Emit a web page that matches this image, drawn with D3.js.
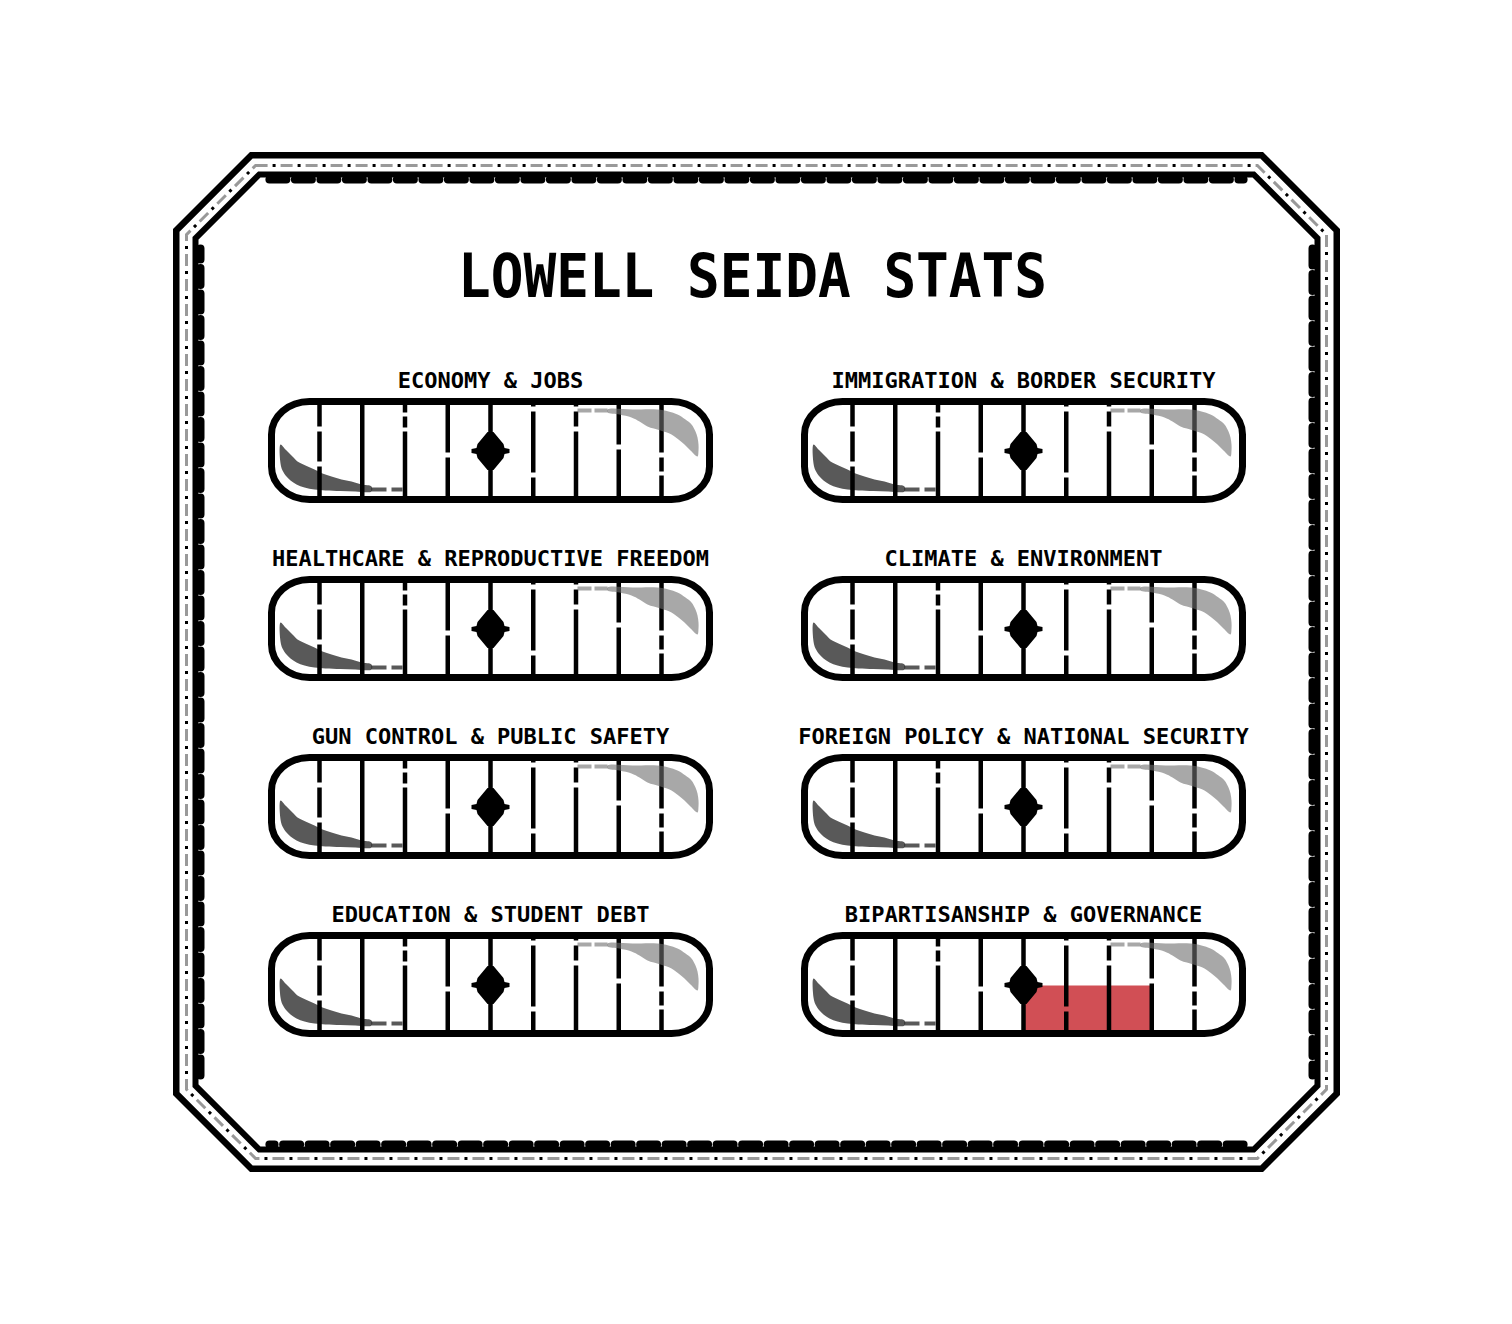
<!DOCTYPE html>
<html><head><meta charset="utf-8">
<script src="https://cdn.jsdelivr.net/npm/d3@7"></script>
<style>html,body{margin:0;padding:0;background:#fff;} svg{display:block}</style>
</head><body><div id="chart"></div>
<script>
// ---------- data ----------
const chartTitle = "LOWELL SEIDA STATS";
const categories = [
  "ECONOMY & JOBS", "IMMIGRATION & BORDER SECURITY",
  "HEALTHCARE & REPRODUCTIVE FREEDOM", "CLIMATE & ENVIRONMENT",
  "GUN CONTROL & PUBLIC SAFETY", "FOREIGN POLICY & NATIONAL SECURITY",
  "EDUCATION & STUDENT DEBT", "BIPARTISANSHIP & GOVERNANCE"
];
const scores = [0, 0, 0, 0, 0, 0, 0, 3];
const tickValues = [-4, -3, -2, -1, 0, 1, 2, 3, 4];
const scoreDomain = [-5, 5];
const centerValue = 0;

// ---------- style / layout ----------
const W = 1512, H = 1324;
const FONT = "'DejaVu Sans Mono', 'Liberation Mono', monospace";
const svg = d3.select("#chart").append("svg").attr("width", W).attr("height", H);
svg.append("rect").attr("width", W).attr("height", H).attr("fill", "#fff");

// frame (octagon)
const F = {x0: 173, y0: 152, x1: 1340, y1: 1172, c: 77};
function oct(d) {
  const k = F.c - d * (2 - Math.SQRT2);
  const x0 = F.x0 + d, y0 = F.y0 + d, x1 = F.x1 - d, y1 = F.y1 - d;
  return [[x0 + k, y0], [x1 - k, y0], [x1, y0 + k], [x1, y1 - k],
          [x1 - k, y1], [x0 + k, y1], [x0, y1 - k], [x0, y0 + k]];
}
const closed = pts => "M" + pts.map(p => p.join(",")).join("L") + "Z";
const frame = svg.append("g").attr("fill", "none");
frame.append("path").attr("d", closed(oct(3.25))).attr("stroke", "#000").attr("stroke-width", 6.5);
frame.append("path").attr("d", closed(oct(13.5))).attr("stroke", "#999").attr("stroke-width", 3)
  .attr("stroke-dasharray", "12 13");
frame.append("path").attr("d", closed(oct(13.5))).attr("stroke", "#000").attr("stroke-width", 3)
  .attr("stroke-dasharray", "3 22").attr("stroke-dashoffset", -17);
frame.append("path").attr("d", closed(oct(22.5))).attr("stroke", "#000").attr("stroke-width", 6);
// scallops along straight edges
const sc = oct(27.5);
[[0, 1], [2, 3], [4, 5], [6, 7]].forEach(([a, b]) => {
  const p = sc[a], q = sc[b];
  const dx = q[0] - p[0], dy = q[1] - p[1], L = Math.hypot(dx, dy);
  const ux = dx / L, uy = dy / L, m = 8;
  frame.append("path")
    .attr("d", `M${p[0] + ux * m},${p[1] + uy * m}L${q[0] - ux * m},${q[1] - uy * m}`)
    .attr("stroke", "#000").attr("stroke-width", 8).attr("stroke-linecap", "round")
    .attr("stroke-dasharray", "17 8.5");
});

// title
svg.append("text").attr("x", 752.5).attr("y", 297)
  .attr("text-anchor", "middle").attr("font-family", FONT).attr("font-weight", "bold")
  .attr("font-size", 60).attr("textLength", 589).attr("lengthAdjust", "spacingAndGlyphs")
  .attr("fill", "#000").text(chartTitle);

// gauges
const colCenters = [490.5, 1023.5];
const rowCenters = [450.5, 628.5, 806.5, 984.5];
const halfSpan = 213.75, capHalfW = 219, capHalfH = 49, capStroke = 7;
const innerHalfH = capHalfH - capStroke / 2;
const tickGaps = { // gaps in divider lines, px relative to gauge centre
  "-4": [[-24, -19], [11, 16]], "-3": [], "-2": [[-38, -34], [-23, -19]],
  "-1": [[2, 7]], "0": [], "1": [[-44, -39], [22, 27]], "2": [[-44, -39], [-24, -19]],
  "3": [[-6, -1]], "4": [[2, 7], [21, 25]]
};
const diamondPts = [[-3,-19],[3,-19],[13,-7],[14,-3],[19,-2],[19,2],[14,3],[13,7],[3,19],[-3,19],[-13,7],[-14,3],[-19,2],[-19,-2],[-14,-3],[-13,-7]];
const shadowPts = [[-210,-6],[-205,-1],[-201,3],[-197,7],[-193,11],[-185,15],[-176,19],[-168,23],
                   [-159,26],[-149,29],[-139,31],[-129,34],[-119,36],
                   [-119,41],[-135,41],[-150,40.5],[-165,40],[-176,39],[-186,37],[-194,34],
                   [-200,30],[-204,26],[-208,20],[-210,13]];
const shadowDashes = [[-119,-104],[-99,-88]];
const hiPts = [[117,-41],[142,-41],[167,-41],[178,-39],[187,-36],[195,-31],[201,-26],[205,-19],
               [207,-13],[208,-6],[208,0],[207,6],
               [200,0],[194,-6],[188,-11],[181,-16],[170,-20],[157,-24],[149,-29],[141,-33],
               [129,-36],[117,-38]];
const hiDashes = [[87,101],[104,117]];
const smooth = d3.line().curve(d3.curveCatmullRomClosed.alpha(0.5));

categories.forEach((cat, i) => {
  const cx = colCenters[i % 2], cy = rowCenters[Math.floor(i / 2)];
  const x = d3.scaleLinear().domain(scoreDomain).range([cx - halfSpan, cx + halfSpan]);
  const g = svg.append("g");

  g.append("text").attr("x", cx).attr("y", cy - 63).attr("text-anchor", "middle")
    .attr("font-family", FONT).attr("font-weight", "bold").attr("font-size", 22)
    .attr("fill", "#000").text(cat);

  g.append("rect").attr("x", cx - capHalfW).attr("y", cy - capHalfH)
    .attr("width", capHalfW * 2).attr("height", capHalfH * 2)
    .attr("rx", 38).attr("ry", 33).attr("fill", "#fff");

  const s = scores[i];
  if (s !== 0) {
    g.append("rect").attr("x", Math.min(x(centerValue), x(s))).attr("y", cy + 1)
      .attr("width", Math.abs(x(s) - x(centerValue))).attr("height", innerHalfH - 1)
      .attr("fill", "#d14f55");
  }

  tickValues.forEach(t => {
    const gaps = tickGaps[String(t)];
    let y0 = -innerHalfH;
    const segs = [];
    gaps.forEach(([a, b]) => { segs.push([y0, a]); y0 = b; });
    segs.push([y0, innerHalfH]);
    segs.forEach(([a, b]) => {
      g.append("line").attr("x1", x(t)).attr("x2", x(t))
        .attr("y1", cy + a).attr("y2", cy + b)
        .attr("stroke", "#000").attr("stroke-width", 4.5);
    });
  });

  g.append("path").attr("transform", `translate(${x(centerValue)},${cy + 0.5})`)
    .attr("d", closed(diamondPts)).attr("fill", "#000");

  // shadow (bottom-left) and gloss (top-right)
  g.append("path").attr("transform", `translate(${cx},${cy})`)
    .attr("d", smooth(shadowPts)).attr("fill", "#000").attr("fill-opacity", 0.65);
  shadowDashes.forEach(([a, b]) => g.append("rect").attr("x", cx + a).attr("y", cy + 37)
    .attr("width", b - a).attr("height", 4).attr("fill", "#000").attr("fill-opacity", 0.65));
  g.append("path").attr("transform", `translate(${cx},${cy})`)
    .attr("d", smooth(hiPts)).attr("fill", "#6e6e6e").attr("fill-opacity", 0.6);
  hiDashes.forEach(([a, b]) => g.append("rect").attr("x", cx + a).attr("y", cy - 42)
    .attr("width", b - a).attr("height", 4).attr("fill", "#6e6e6e").attr("fill-opacity", 0.6));

  g.append("rect").attr("x", cx - capHalfW).attr("y", cy - capHalfH)
    .attr("width", capHalfW * 2).attr("height", capHalfH * 2)
    .attr("rx", 38).attr("ry", 33).attr("fill", "none")
    .attr("stroke", "#000").attr("stroke-width", capStroke);
});
</script></body></html>
